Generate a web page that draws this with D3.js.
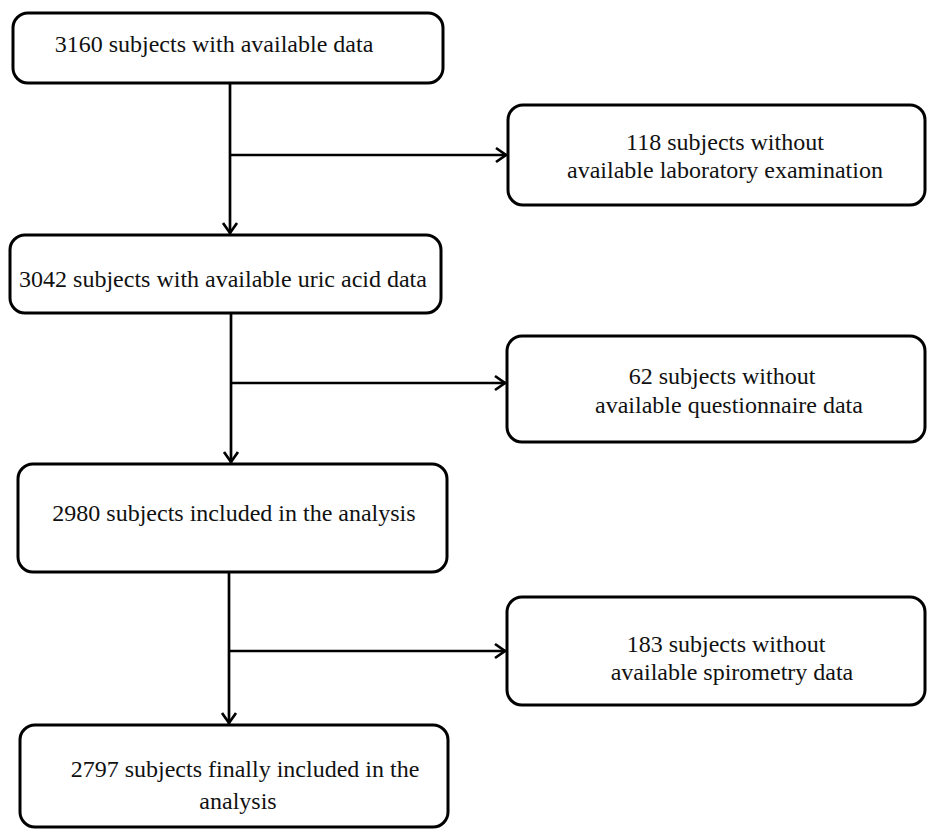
<!DOCTYPE html>
<html>
<head>
<meta charset="utf-8">
<script src="https://cdn.jsdelivr.net/npm/d3@7"></script>
<style>
  html, body { margin: 0; padding: 0; background: #fff; }
</style>
</head>
<body>
<svg id="chart" width="927" height="829"></svg>
<script>
(function(){

  // flow numbers
  var mainCounts = [3160, 3042, 2980, 2797];
  var mainLabels = [
    ["3160 subjects with available data"],
    ["3042 subjects with available uric acid data"],
    ["2980 subjects included in the analysis"],
    ["2797 subjects finally included in the", "analysis"]
  ];
  var excludedCounts = [118, 62, 183];
  var excludedLabels = [
    ["118 subjects without", "available laboratory examination"],
    ["62 subjects without", "available questionnaire data"],
    ["183 subjects without", "available spirometry data"]
  ];

  // layout (pixels)
  var mainBoxes = [
    {x0: 13, x1: 443, y0: 13, y1: 83, cx: [214], base: [52]},
    {x0: 10, x1: 441, y0: 235, y1: 313, cx: [223], base: [287]},
    {x0: 18, x1: 447, y0: 464, y1: 572, cx: [234], base: [521]},
    {x0: 20, x1: 448, y0: 725, y1: 827, cx: [245, 238], base: [777, 809]}
  ];
  var sideBoxes = [
    {x0: 508, x1: 925, y0: 105, y1: 205, cx: [725, 725], base: [150, 178]},
    {x0: 507, x1: 925, y0: 336, y1: 442, cx: [722, 729], base: [384, 413]},
    {x0: 507, x1: 925, y0: 597, y1: 705, cx: [726, 732], base: [652, 680]}
  ];
  var stemX = [230, 231, 229];
  var branchY = [155, 383, 651];

  var svg = d3.select("#chart");

  function drawBox(b, lines){
    svg.append("rect")
      .attr("x", b.x0).attr("y", b.y0)
      .attr("width", b.x1 - b.x0).attr("height", b.y1 - b.y0)
      .attr("rx", 15).attr("ry", 15)
      .attr("fill", "#fff")
      .attr("stroke", "#000")
      .attr("stroke-width", 3);
    lines.forEach(function(t, i){
      svg.append("text")
        .attr("x", b.cx[i]).attr("y", b.base[i])
        .attr("text-anchor", "middle")
        .attr("fill", "#111")
        .style("font-family", "'Liberation Serif', serif")
        .style("font-size", "24px")
        .text(t);
    });
  }

  var line = d3.line();

  function arrowDown(x, y0, y1){
    svg.append("path").attr("d", line([[x, y0], [x, y1]]))
      .attr("stroke", "#000").attr("stroke-width", 2.7).attr("fill", "none");
    svg.append("path").attr("d", line([[x - 7, y1 - 11], [x, y1 - 1], [x + 7, y1 - 11]]))
      .attr("stroke", "#000").attr("stroke-width", 2.7).attr("fill", "none");
  }

  function arrowRight(y, x0, x1){
    svg.append("path").attr("d", line([[x0, y], [x1, y]]))
      .attr("stroke", "#000").attr("stroke-width", 2.7).attr("fill", "none");
    svg.append("path").attr("d", line([[x1 - 11, y - 7], [x1 - 1, y], [x1 - 11, y + 7]]))
      .attr("stroke", "#000").attr("stroke-width", 2.7).attr("fill", "none");
  }

  for (var i = 0; i < excludedCounts.length; i++){
    arrowDown(stemX[i], mainBoxes[i].y1, mainBoxes[i + 1].y0 - 1);
    arrowRight(branchY[i], stemX[i], sideBoxes[i].x0 - 1);
  }

  mainBoxes.forEach(function(b, i){ drawBox(b, mainLabels[i]); });
  sideBoxes.forEach(function(b, i){ drawBox(b, excludedLabels[i]); });

})();
</script>
</body>
</html>
